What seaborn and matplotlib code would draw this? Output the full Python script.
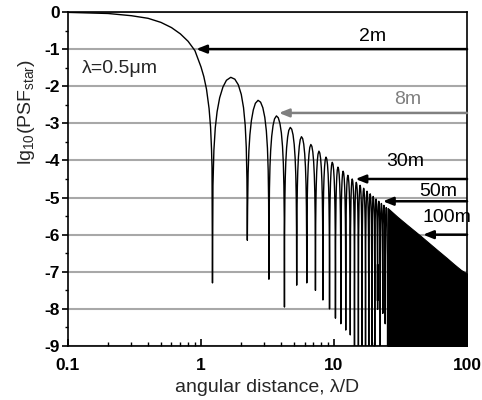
import numpy as np
import pandas as pd
import matplotlib
matplotlib.use('Agg')
import matplotlib.pyplot as plt
import matplotlib.ticker as mticker
import seaborn as sns

# central peak of the star PSF
core_x = [0.1, 0.2, 0.3, 0.4, 0.5, 0.6, 0.7, 0.8, 0.9, 1.0, 1.05, 1.1, 1.15, 1.18, 1.2, 1.21]
core_y = [-0.01, -0.04, -0.10, -0.17, -0.28, -0.42, -0.59, -0.79, -1.04, -1.48, -1.74, -2.08, -2.6, -3.1, -3.7, -4.2]

# dark rings (zeros) and how deep the curve dips there
ring_zero = [1.22, 2.23, 3.24, 4.24, 5.24, 6.24, 7.25, 8.25, 9.25, 10.25, 11.25, 12.25, 13.25,
             14.25, 15.25, 16.25, 17.25, 18.25, 19.25, 20.25, 21.25, 22.25, 23.25, 24.25, 25.25]
ring_depth = [-7.3, -6.15, -7.2, -7.95, -7.36, -7.3, -7.5, -7.76, -8.0, -8.25, -8.4, -8.57, -8.7,
              -9.5, -9.5, -9.5, -9.5, -9.5, -9.5, -9.5, -6.8, -9.5, -7.6, -8.4, -9.5]
# bright rings: peak height between two zeros
ring_peak = [-1.76, -2.38, -2.80, -3.11, -3.36, -3.57, -3.75, -3.91, -4.05, -4.18, -4.29, -4.40,
             -4.50, -4.59, -4.67, -4.75, -4.83, -4.90, -4.97, -5.04, -5.10, -5.16, -5.21, -5.27]

# shape of one bright ring: fraction of ring width, drop below its peak
lobe_t = [0.01, 0.03, 0.06, 0.1, 0.16, 0.24, 0.33, 0.45, 0.57, 0.68, 0.78, 0.86, 0.92, 0.96, 0.985]
lobe_drop = [-2.91, -1.96, -1.36, -0.93, -0.55, -0.26, -0.08, 0.0, -0.05, -0.20, -0.46, -0.82, -1.29, -1.89, -2.74]

# further out the rings merge into a black area under this envelope
env_x = [25.25, 30, 35, 40, 45, 50, 60, 70, 80, 90, 100]
env_y = [-5.28, -5.52, -5.72, -5.89, -6.04, -6.18, -6.42, -6.62, -6.80, -6.95, -7.05]

# telescope arrows
arr_label = ['2m', '8m', '30m', '50m', '100m']
arr_level = [-1.0, -2.72, -4.5, -5.1, -6.0]
arr_tip = [0.92, 3.85, 14.5, 23.3, 46.7]
arr_text_x = [19.6, 36.0, 34.2, 60.5, 70.6]
arr_text_y = [-0.65, -2.37, -4.03, -4.84, -5.55]
arr_color = ['black', '#808080', 'black', 'black', 'black']

# build the curve
xs = list(core_x) + [ring_zero[0]]
ys = list(core_y) + [ring_depth[0]]
for k in range(len(ring_peak)):
    a, b = ring_zero[k], ring_zero[k + 1]
    for t, d in zip(lobe_t, lobe_drop):
        xs.append(a + t * (b - a))
        ys.append(ring_peak[k] + d)
    xs.append(b)
    ys.append(ring_depth[k + 1])
df = pd.DataFrame({'x': xs, 'y': ys})

sns.set_theme(style='white')
plt.rcParams['font.family'] = ['Liberation Sans', 'DejaVu Sans']
plt.rcParams['mathtext.fontset'] = 'custom'
plt.rcParams['mathtext.rm'] = 'Liberation Sans'
plt.rcParams['mathtext.it'] = 'Liberation Sans:italic'
plt.rcParams['axes.unicode_minus'] = False

fig = plt.figure(figsize=(4.82, 4.0), dpi=100)
ax = fig.add_axes([0.141, 0.135, 0.828, 0.835])

for lv in range(-9, 1):
    ax.axhline(lv, color='#a8a8a8', lw=1.5, zorder=0)

sns.lineplot(data=df, x='x', y='y', sort=False, estimator=None, color='black', lw=1.0, ax=ax)
ax.fill_between(env_x, env_y, -9.5, color='black', lw=0.8, edgecolor='black')

for lab, lv, tip, tx, ty, c in zip(arr_label, arr_level, arr_tip, arr_text_x, arr_text_y, arr_color):
    ax.annotate('', xy=(tip, lv), xytext=(100, lv),
                arrowprops=dict(arrowstyle='-|>,head_length=0.5,head_width=0.2', lw=1.8,
                                color=c, shrinkA=0, shrinkB=0))
    ax.text(tx, ty, lab, color=c, fontsize=14, ha='center', va='center')

ax.text(0.127, -1.51, 'λ=0.5μm', fontsize=14, ha='left', va='center')

ax.set_xscale('log')
ax.set_xlim(0.1, 100)
ax.set_ylim(-9, 0)
ax.xaxis.set_major_locator(mticker.FixedLocator([0.1, 1, 10, 100]))
ax.xaxis.set_major_formatter(mticker.FixedFormatter(['0.1', '1', '10', '100']))
ax.xaxis.set_minor_locator(mticker.LogLocator(base=10, subs=np.arange(2, 10)))
ax.xaxis.set_minor_formatter(mticker.NullFormatter())
ax.yaxis.set_major_locator(mticker.MultipleLocator(1))
ax.yaxis.set_minor_locator(mticker.MultipleLocator(0.5))

ax.tick_params(axis='x', which='major', direction='in', length=5, width=1.2, pad=9, labelsize=12.5)
ax.tick_params(axis='x', which='minor', direction='in', length=3, width=1.0)
ax.tick_params(axis='y', which='major', direction='out', length=4, width=1.2, pad=2, labelsize=12.5)
ax.tick_params(axis='y', which='minor', direction='out', length=2.5, width=1.0)
ax.tick_params(which='both', bottom=True, left=True, top=False, right=False, colors='black')
for lab in ax.get_xticklabels() + ax.get_yticklabels():
    lab.set_fontweight('bold')
for s in ax.spines.values():
    s.set_color('black')
    s.set_linewidth(1.2)

ax.set_xlabel('angular distance, λ/D', fontsize=14, labelpad=4)
ax.set_ylabel(r'lg$_{10}$(PSF$_{\mathrm{star}}$)', fontsize=14)
ax.yaxis.set_label_coords(-0.078, 0.70)

fig.savefig('out.png', dpi=100)
